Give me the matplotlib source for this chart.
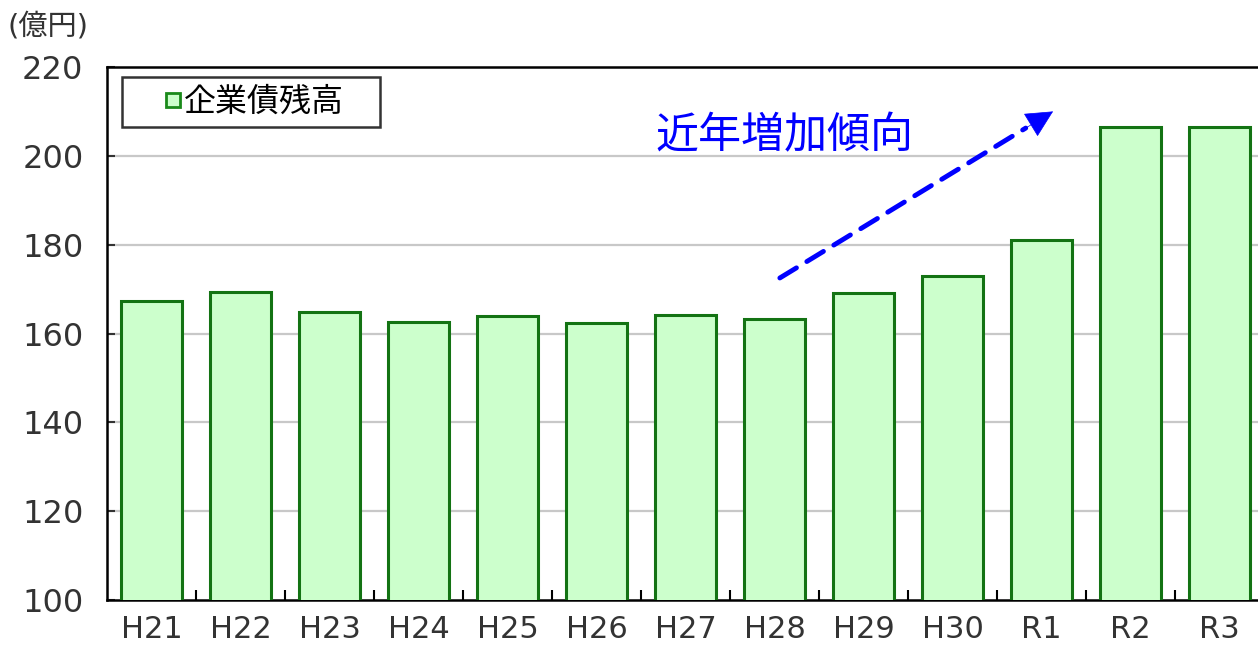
import matplotlib.pyplot as plt
from matplotlib.lines import Line2D
import numpy as np

plt.rcParams['font.family'] = ['DejaVu Sans', 'Noto Sans CJK JP']

# data
years = ['H21', 'H22', 'H23', 'H24', 'H25', 'H26', 'H27',
         'H28', 'H29', 'H30', 'R1', 'R2', 'R3']
bond_balance = [167.3, 169.4, 164.9, 162.6, 164.0, 162.4, 164.2,
                163.3, 169.1, 173.0, 181.1, 206.5, 206.5]
yticks = [100, 120, 140, 160, 180, 200, 220]

W, H = 1258, 648
fig = plt.figure(figsize=(W / 100, H / 100), dpi=100)
ax = fig.add_axes([107 / W, 1 - 600 / H, 1157 / W, 533 / H])

x = np.arange(len(years))
ax.bar(x, bond_balance, width=0.68, color='#ccffcc', edgecolor='#137313',
       linewidth=2.2, zorder=3)

ax.set_ylim(100, 220)
ax.set_xlim(-0.5, len(years) - 0.5)
ax.set_yticks(yticks)
ax.set_xticks(x)
ax.set_xticklabels(years)
ax.set_xticks(x[:-1] + 0.5, minor=True)

for yv in yticks[1:-1]:
    ax.axhline(yv, color='#c8c8c8', linewidth=1.6, zorder=1)

ax.tick_params(axis='y', direction='in', length=6, width=1.5,
               labelsize=23, pad=17, colors='#333333')
ax.tick_params(axis='x', which='major', length=0, labelsize=22, pad=11,
               colors='#333333')
ax.tick_params(axis='x', which='minor', direction='in', length=7, width=1.5)
for s in ax.spines.values():
    s.set_linewidth(1.8)
    s.set_color('black')

fig.text(8 / W, 1 - 27 / H, '(億円)', fontsize=21, va='center', ha='left',
         color='#333333')

handle = Line2D([], [], marker='s', linestyle='none', markersize=10,
                markerfacecolor='#ccffcc', markeredgecolor='#1a8a1a',
                markeredgewidth=2)
leg = ax.legend([handle], ['企業債残高'], loc='upper left',
                bbox_to_anchor=(0.013, 0.887, 0.223, 0.094), mode='expand',
                fontsize=23, frameon=True, fancybox=False, edgecolor='black',
                handlelength=2.6, handletextpad=-0.95, borderpad=0.3,
                borderaxespad=0)
leg.get_frame().set_linewidth(1.8)

# trend annotation: dashed shaft + solid head
start = (7.06, 172.5)
tip = (10.13, 210.0)
base = (start[0] + 0.9 * (tip[0] - start[0]), start[1] + 0.9 * (tip[1] - start[1]))
ax.annotate('', xy=base, xytext=start,
            arrowprops=dict(arrowstyle='-', color='#0000ff', lw=3.5,
                            linestyle=(0, (4, 2.5)), shrinkA=0, shrinkB=0),
            zorder=5)
ax.annotate('', xy=tip, xytext=base,
            arrowprops=dict(arrowstyle='-|>,head_length=1.8,head_width=0.9',
                            color='#0000ff', lw=0.5, shrinkA=0, shrinkB=0),
            zorder=5)
fig.text(655 / W, 1 - 136 / H, '近年増加傾向', fontsize=31, color='#0000ff',
         va='center', ha='left', family=['Noto Sans CJK JP'])

fig.savefig('out.png', dpi=100)
